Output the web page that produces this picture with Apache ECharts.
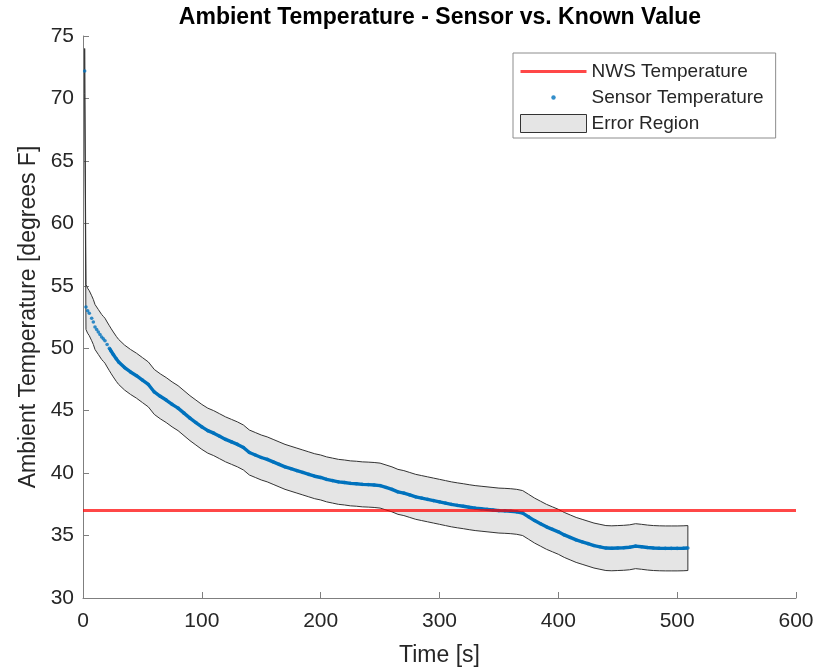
<!DOCTYPE html>
<html>
<head>
<meta charset="utf-8">
<script src="https://cdn.jsdelivr.net/npm/echarts@6/dist/echarts.min.js"></script>
<style>
  html, body { margin: 0; padding: 0; background: #fff; }
  #chart { width: 824px; height: 668px; }
</style>
</head>
<body>
<div id="chart"></div>
<script>
// sensor readings, time [s] and temperature [F]
var sensorTime = [1.4, 2.5, 3.9, 5.3, 7.3, 8.7, 10.1, 11.5, 12.9, 14.3, 15.7, 17.1, 18.5, 20.3, 22.2, 23.8, 25.5, 28,
  30, 35, 40, 45, 50, 55, 60, 65, 70, 75,
  80, 85, 90, 95, 100, 105, 110, 115, 120, 125,
  130, 135, 140, 145, 150, 155, 160, 165, 170, 175,
  180, 185, 190, 195, 200, 205, 210, 215, 220, 225,
  230, 235, 240, 245, 250, 255, 260, 265, 270, 275,
  280, 285, 290, 295, 300, 305, 310, 315, 320, 325,
  330, 335, 340, 345, 350, 355, 360, 365, 370, 375,
  380, 385, 390, 395, 400, 405, 410, 415, 420, 425,
  430, 435, 440, 445, 450, 455, 460, 465, 470, 475,
  480, 485, 490, 495, 500, 505, 509];

var sensorTemp = [72.2, 53.3, 53.0, 52.8, 52.4, 52.1, 51.7, 51.5, 51.3, 51.1, 50.9, 50.75, 50.6, 50.3, 50.0, 49.75, 49.5, 49.15,
  48.9, 48.45, 48.1, 47.8, 47.45, 47.1, 46.5, 46.15, 45.85, 45.5,
  45.2, 44.8, 44.4, 44.05, 43.7, 43.4, 43.2, 42.95, 42.7, 42.5,
  42.3, 42.05, 41.65, 41.45, 41.25, 41.1, 40.9, 40.7, 40.5, 40.35,
  40.2, 40.05, 39.9, 39.75, 39.65, 39.5, 39.4, 39.3, 39.25, 39.18,
  39.15, 39.1, 39.08, 39.05, 39.0, 38.85, 38.7, 38.5, 38.4, 38.25,
  38.1, 38.0, 37.9, 37.8, 37.7, 37.6, 37.5, 37.42, 37.35, 37.27,
  37.2, 37.15, 37.1, 37.05, 37.0, 36.98, 36.95, 36.9, 36.8, 36.5,
  36.2, 35.95, 35.7, 35.5, 35.3, 35.05, 34.85, 34.65, 34.5, 34.35,
  34.2, 34.1, 34.0, 33.98, 34.0, 34.02, 34.06, 34.15, 34.1, 34.04,
  34.0, 33.98, 33.97, 33.97, 33.97, 33.98, 34.0];

// error region edges, same times as the sensor
var bandUpper = [74.0, 55.1, 54.8, 54.6, 54.2, 53.9, 53.5, 53.3, 53.1, 52.9, 52.7, 52.55, 52.4, 52.1, 51.8, 51.55, 51.3, 50.95,
  50.7, 50.25, 49.9, 49.6, 49.25, 48.9, 48.3, 47.95, 47.65, 47.3,
  47.0, 46.6, 46.2, 45.85, 45.5, 45.2, 45.0, 44.75, 44.5, 44.3,
  44.1, 43.85, 43.45, 43.25, 43.05, 42.9, 42.7, 42.5, 42.3, 42.15,
  42.0, 41.85, 41.7, 41.55, 41.45, 41.3, 41.2, 41.1, 41.05, 40.98,
  40.95, 40.9, 40.88, 40.85, 40.8, 40.65, 40.5, 40.3, 40.2, 40.05,
  39.9, 39.8, 39.7, 39.6, 39.5, 39.4, 39.3, 39.22, 39.15, 39.07,
  39.0, 38.95, 38.9, 38.85, 38.8, 38.78, 38.75, 38.7, 38.6, 38.3,
  38.0, 37.75, 37.5, 37.3, 37.1, 36.85, 36.65, 36.45, 36.3, 36.15,
  36.0, 35.9, 35.8, 35.78, 35.8, 35.82, 35.86, 35.95, 35.9, 35.84,
  35.8, 35.78, 35.77, 35.77, 35.77, 35.78, 35.8];

var bandLower = [70.4, 51.5, 51.2, 51.0, 50.6, 50.3, 49.9, 49.7, 49.5, 49.3, 49.1, 48.95, 48.8, 48.5, 48.2, 47.95, 47.7, 47.35,
  47.1, 46.65, 46.3, 46.0, 45.65, 45.3, 44.7, 44.35, 44.05, 43.7,
  43.4, 43.0, 42.6, 42.25, 41.9, 41.6, 41.4, 41.15, 40.9, 40.7,
  40.5, 40.25, 39.85, 39.65, 39.45, 39.3, 39.1, 38.9, 38.7, 38.55,
  38.4, 38.25, 38.1, 37.95, 37.85, 37.7, 37.6, 37.5, 37.45, 37.38,
  37.35, 37.3, 37.28, 37.25, 37.2, 37.05, 36.9, 36.7, 36.6, 36.45,
  36.3, 36.2, 36.1, 36.0, 35.9, 35.8, 35.7, 35.62, 35.55, 35.47,
  35.4, 35.35, 35.3, 35.25, 35.2, 35.18, 35.15, 35.1, 35.0, 34.7,
  34.4, 34.15, 33.9, 33.7, 33.5, 33.25, 33.05, 32.85, 32.7, 32.55,
  32.4, 32.3, 32.2, 32.18, 32.2, 32.22, 32.26, 32.35, 32.3, 32.24,
  32.2, 32.18, 32.17, 32.17, 32.17, 32.18, 32.2];

// NWS reference
var nwsTime = [0, 600];
var nwsTemp = 37;

var xTicks = { min: 0, max: 600, step: 100 };
var yTicks = { min: 30, max: 75, step: 5 };

var FONT = 'Liberation Sans, Arial, Helvetica, sans-serif';
var TXT = '#262626';
var AXIS = '#7f7f7f';

var sensorPts = [];
for (var i = 0; i < sensorTime.length; i++) {
  sensorPts.push([sensorTime[i], sensorTemp[i]]);
}
// dots are spread apart at the start, then merge into a band
var denseStart = 14;
var sensorLine = sensorPts.slice(denseStart);
var nwsPts = nwsTime.map(function (t) { return [t, nwsTemp]; });

// legend icons: extra moveTo points keep the full 66x18 box so the mark keeps its size
var dotIcon = 'path://M0,0M66,18M30.8,9a2.2,2.2 0 1,0 4.4,0a2.2,2.2 0 1,0 -4.4,0z';
var lineIcon = 'path://M0,0M66,18M0,7.6h66v2.8h-66z';

var option = {
  animation: false,
  backgroundColor: '#fff',
  textStyle: { fontFamily: FONT, color: TXT },
  title: {
    text: 'Ambient Temperature - Sensor vs. Known Value',
    left: 440,
    top: 6,
    textAlign: 'center',
    padding: 0,
    textStyle: { fontFamily: FONT, fontSize: 23, fontWeight: 'bold', color: '#000' }
  },
  grid: { left: 83, right: 28, top: 36, bottom: 70, containLabel: false, outerBoundsMode: 'none' },
  legend: {
    orient: 'vertical',
    left: 513,
    top: 53,
    padding: [9, 12, 5, 7],
    itemGap: 7,
    itemWidth: 66,
    itemHeight: 18,
    backgroundColor: '#fff',
    borderColor: '#8c8c8c',
    borderWidth: 1,
    borderRadius: 0,
    selectedMode: false,
    textStyle: { fontFamily: FONT, fontSize: 19, color: TXT },
    data: [
      { name: 'NWS Temperature', icon: lineIcon },
      { name: 'Sensor Temperature', icon: dotIcon },
      { name: 'Error Region', icon: 'rect', itemStyle: { color: '#e5e5e5', borderColor: '#333', borderWidth: 1 } }
    ]
  },
  xAxis: {
    type: 'value',
    min: xTicks.min,
    max: xTicks.max,
    interval: xTicks.step,
    name: 'Time [s]',
    nameLocation: 'middle',
    nameGap: 46,
    nameTextStyle: { fontFamily: FONT, fontSize: 23, color: TXT },
    axisLine: { show: true, onZero: false, lineStyle: { color: AXIS, width: 1 } },
    axisTick: { show: true, inside: true, length: 6, lineStyle: { color: AXIS } },
    axisLabel: { fontFamily: FONT, fontSize: 21, color: TXT, margin: 13 },
    splitLine: { show: false }
  },
  yAxis: {
    type: 'value',
    min: yTicks.min,
    max: yTicks.max,
    interval: yTicks.step,
    name: 'Ambient Temperature [degrees F]',
    nameLocation: 'middle',
    nameGap: 36,
    nameTextStyle: { fontFamily: FONT, fontSize: 23, color: TXT },
    axisLine: { show: true, onZero: false, lineStyle: { color: AXIS, width: 1 } },
    axisTick: { show: true, inside: true, length: 6, lineStyle: { color: AXIS } },
    axisLabel: { fontFamily: FONT, fontSize: 21, color: TXT, margin: 9 },
    splitLine: { show: false }
  },
  series: [
    {
      name: 'Error Region',
      type: 'custom',
      z: 1,
      itemStyle: { color: '#e5e5e5', borderColor: '#333', borderWidth: 1 },
      data: [[sensorTime[0], bandLower[0], bandUpper[0]]],
      renderItem: function (params, api) {
        var pts = [];
        for (var k = 0; k < sensorTime.length; k++) {
          pts.push(api.coord([sensorTime[k], bandUpper[k]]));
        }
        for (var k2 = sensorTime.length - 1; k2 >= 0; k2--) {
          pts.push(api.coord([sensorTime[k2], bandLower[k2]]));
        }
        return {
          type: 'polygon',
          shape: { points: pts },
          style: { fill: '#e5e5e5', stroke: '#333', lineWidth: 1 }
        };
      }
    },
    {
      name: 'Sensor Temperature',
      type: 'scatter',
      z: 3,
      symbol: 'circle',
      symbolSize: 3.6,
      itemStyle: { color: '#0072BD' },
      data: sensorPts
    },
    {
      name: 'Sensor Temperature',
      type: 'line',
      z: 3,
      symbol: 'none',
      lineStyle: { color: '#0072BD', width: 3.4 },
      itemStyle: { color: '#0072BD' },
      data: sensorLine
    },
    {
      name: 'NWS Temperature',
      type: 'line',
      z: 5,
      symbol: 'none',
      lineStyle: { color: 'rgba(255,0,0,0.72)', width: 3 },
      itemStyle: { color: 'rgba(255,0,0,0.72)' },
      data: nwsPts
    }
  ]
};

var myChart = echarts.init(document.getElementById('chart'));
myChart.setOption(option);
</script>
</body>
</html>
